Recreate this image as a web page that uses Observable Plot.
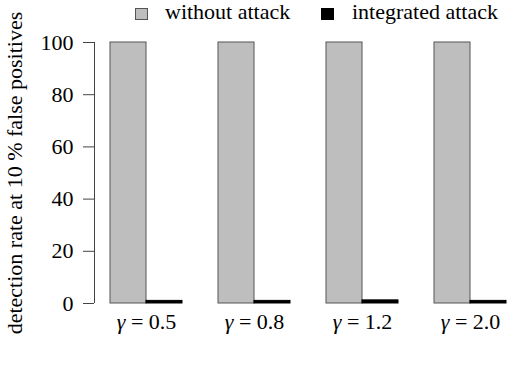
<!DOCTYPE html>
<html>
<head>
<meta charset="utf-8">
<script src="https://cdn.jsdelivr.net/npm/d3@7"></script>
<script src="https://cdn.jsdelivr.net/npm/@observablehq/plot@0.6"></script>
<style>
  html, body { margin: 0; padding: 0; background: #fff; }
  #wrap { position: relative; width: 509px; font-family: "Liberation Serif", "Times New Roman", serif; }
  #legend { position: absolute; left: 0; top: 0; width: 509px; height: 28px; font-size: 22px; line-height: 22px; color: #000; z-index: 2; }
  #legend .sw { position: absolute; top: 8px; width: 11px; height: 10px; border: 1px solid #555; }
  #legend .lb { position: absolute; top: 1px; white-space: nowrap; }
</style>
</head>
<body>
<div id="wrap">
  <div id="legend"></div>
  <div id="chart"></div>
</div>
<script>
const gammas = ["0.5", "0.8", "1.2", "2.0"];
const series = ["without attack", "integrated attack"];
const withoutAttack = [100, 100, 100, 100];
const integratedAttack = [1, 1, 1.2, 1];
const yTicks = [0, 20, 40, 60, 80, 100];
const colors = ["#bebebe", "#000000"];
const yLabel = "detection rate at 10 % false positives";

const data = [];
gammas.forEach((g, i) => {
  data.push({gamma: g, series: series[0], value: withoutAttack[i]});
  data.push({gamma: g, series: series[1], value: integratedAttack[i]});
});

// legend
const legend = document.getElementById("legend");
const legendPos = [{sw: 135, lb: 165}, {sw: 321, lb: 352}];
series.forEach((s, i) => {
  const sw = document.createElement("span");
  sw.className = "sw";
  sw.style.left = legendPos[i].sw + "px";
  sw.style.background = colors[i];
  if (i === 1) sw.style.borderColor = "#000";
  legend.appendChild(sw);
  const lb = document.createElement("span");
  lb.className = "lb";
  lb.style.left = legendPos[i].lb + "px";
  lb.textContent = s;
  legend.appendChild(lb);
});

const chart = Plot.plot({
  width: 509,
  height: 365,
  marginLeft: 110,
  marginRight: 3,
  marginTop: 42,
  marginBottom: 62,
  style: {fontFamily: "'Liberation Serif', 'Times New Roman', serif", fontSize: "22px", color: "#000", background: "#fff"},
  fx: {domain: gammas, paddingInner: 1/3, paddingOuter: 0, label: null},
  x: {domain: series, padding: 0, axis: null},
  y: {domain: [0, 100], axis: null},
  color: {domain: series, range: colors},
  marks: [
    Plot.axisY({ticks: yTicks, tickSize: 11, tickPadding: 10, dx: -16, label: yLabel, labelAnchor: "center", labelOffset: 104, labelArrow: "none", stroke: "#444", fill: "#000", fontSize: 22}),
    Plot.ruleX([{gamma: gammas[0], series: series[0]}], {fx: "gamma", x: "series", y1: 0, y2: 100, dx: -34, stroke: "#444", strokeWidth: 1}),
    Plot.axisFx({anchor: "bottom", tickSize: 0, tickPadding: 10, tickFormat: d => "γ = " + d, fontSize: 22, label: null}),
    Plot.barY(data, {fx: "gamma", x: "series", y: "value", fill: "series", stroke: d => d.series === series[0] ? "#555" : "#000", strokeWidth: 1})
  ]
});
document.getElementById("chart").appendChild(chart);

// italic gamma in the fx tick labels
d3.select(chart).selectAll('g[aria-label="fx-axis tick label"] text').each(function() {
  const t = d3.select(this);
  const txt = t.text();
  const rest = txt.slice(1);
  t.text(null);
  t.append("tspan").attr("font-style", "italic").text("γ");
  t.append("tspan").text(rest);
});
</script>
</body>
</html>
